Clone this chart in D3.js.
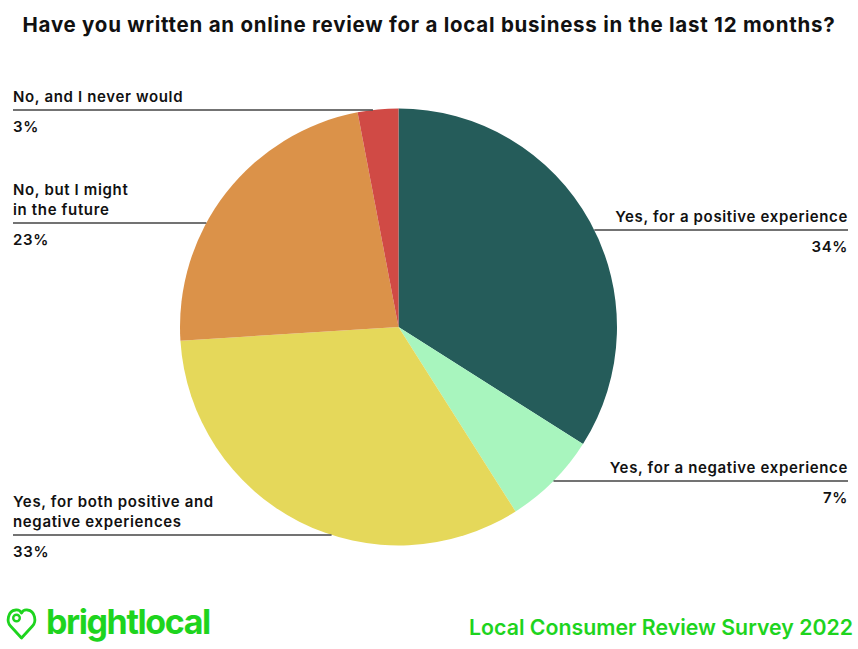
<!DOCTYPE html>
<html><head><meta charset="utf-8">
<script src="https://cdn.jsdelivr.net/npm/d3@7"></script>
<style>body{margin:0;background:#fff}svg{display:block}</style>
</head><body>
<svg id="c" width="858" height="649"></svg>
<script>
const categories = ["Yes, for a positive experience","Yes, for a negative experience","Yes, for both positive and negative experiences","No, but I might in the future","No, and I never would"];
const values = [34, 7, 33, 23, 3];
const colors = ["#255C5A","#A8F5BE","#E5D85A","#DB9249","#D04A45"];
const labelLines = [["Yes, for a positive experience"],["Yes, for a negative experience"],["Yes, for both positive and","negative experiences"],["No, but I might","in the future"],["No, and I never would"]];

const svg = d3.select("#c");
const W=858, cx=398.5, cy=327, r=218.5;
const font="Inter, 'Open Sans', sans-serif";

svg.append("text").attr("x",W/2).attr("y",32).attr("text-anchor","middle")
  .attr("font-family",font).attr("font-weight",700).attr("font-size",20.5).attr("letter-spacing",0.75).attr("fill","#111")
  .text("Have you written an online review for a local business in the last 12 months?");

const pie = d3.pie().sort(null).value(d=>d)(values);
const arc = d3.arc().innerRadius(0).outerRadius(r);
const g = svg.append("g").attr("transform",`translate(${cx},${cy})`);
g.selectAll("path").data(pie).join("path").attr("d",arc).attr("fill",(d,i)=>colors[i]);

const layout = [
  {side:"right", lineY:230},
  {side:"right", lineY:481},
  {side:"left", lineY:535},
  {side:"left", lineY:223},
  {side:"left", lineY:110}
];
const lx=13, rx=848;
layout.forEach((L,i)=>{
  const dy = L.lineY-cy;
  const dx = Math.sqrt(Math.max(0,r*r-dy*dy));
  const edge = L.side==="left" ? cx-dx : cx+dx;
  const x1 = L.side==="left"? lx : edge, x2 = L.side==="left"? edge : rx;
  svg.append("line").attr("x1",x1).attr("x2",x2).attr("y1",L.lineY).attr("y2",L.lineY)
    .attr("stroke","#444").attr("stroke-width",1.4);
  const tx = L.side==="left"? lx : rx, anchor = L.side==="left"?"start":"end";
  const lines = labelLines[i];
  lines.forEach((t,j)=>{
    svg.append("text").attr("x",tx).attr("y",L.lineY-8-(lines.length-1-j)*20)
      .attr("text-anchor",anchor).attr("font-family",font).attr("font-weight",600)
      .attr("font-size",15).attr("letter-spacing",0.65).attr("fill","#111").text(t);
  });
  svg.append("text").attr("x",tx).attr("y",L.lineY+22).attr("text-anchor",anchor)
    .attr("font-family",font).attr("font-weight",600).attr("font-size",15).attr("letter-spacing",0.65).attr("fill","#111")
    .text(values[i]+"%");
});

// footer
const green="#1ED41E";
const pin = svg.append("g").attr("transform","translate(21.5,620)");
pin.append("path").attr("d","M0,18 L-11,6 C-15,2 -14,-9 -6,-10 C-3,-10.5 -1,-9 0,-7 C1,-9 3,-10.5 6,-10 C14,-9 15,2 11,6 Z")
  .attr("fill","none").attr("stroke",green).attr("stroke-width",2.8).attr("stroke-linejoin","round");
pin.append("circle").attr("cx",-5).attr("cy",-2).attr("r",3.3).attr("fill","none").attr("stroke",green).attr("stroke-width",2.4);
svg.append("text").attr("x",46).attr("y",634).attr("font-family",font).attr("font-weight",700)
  .attr("font-size",34).attr("letter-spacing",-1.4).attr("fill",green).text("brightlocal");
svg.append("text").attr("x",853).attr("y",635).attr("text-anchor","end").attr("font-family",font)
  .attr("font-weight",600).attr("font-size",21.3).attr("fill",green).text("Local Consumer Review Survey 2022");
</script>
</body></html>
